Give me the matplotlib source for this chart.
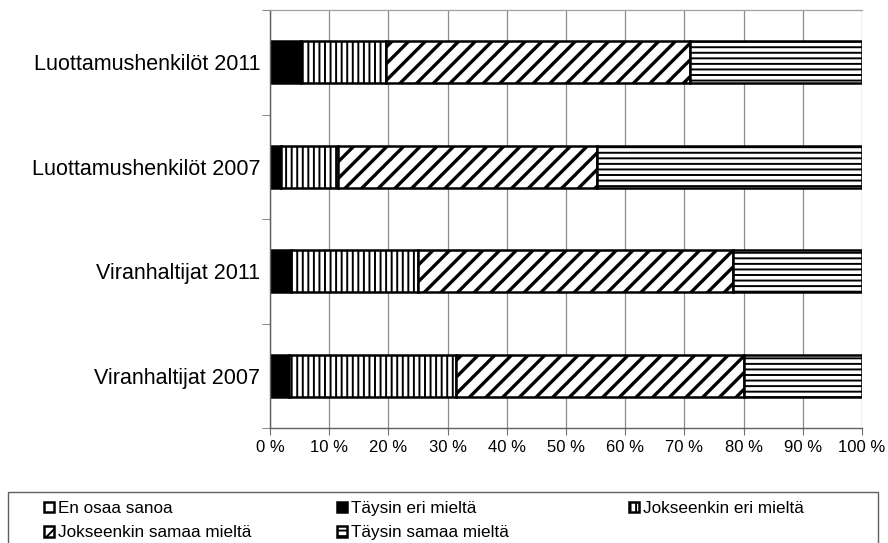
import matplotlib.pyplot as plt
from matplotlib.patches import Rectangle
import numpy as np

plt.rcParams['font.family'] = ['Liberation Sans', 'DejaVu Sans']

groups = ['Viranhaltijat 2007', 'Viranhaltijat 2011',
          'Luottamushenkilöt 2007', 'Luottamushenkilöt 2011']
labels = ['En osaa sanoa', 'Täysin eri mieltä', 'Jokseenkin eri mieltä',
          'Jokseenkin samaa mieltä', 'Täysin samaa mieltä']

# shares in percent, one list per answer, in group order above
en_osaa = [0.0, 0.0, 0.0, 0.0]
taysin_eri = [3.2, 3.5, 1.9, 5.2]
jokseenkin_eri = [28.2, 21.5, 9.6, 14.4]
jokseenkin_samaa = [48.7, 53.2, 43.7, 51.3]
taysin_samaa = [19.9, 21.8, 44.8, 29.1]

series = [en_osaa, taysin_eri, jokseenkin_eri, jokseenkin_samaa, taysin_samaa]
faces = ['white', 'black', 'white', 'white', 'white']
hatches = [None, None, '|||', '//', '---']
hatch_lw = [1.4, 1.4, 1.4, 2.4, 1.4]

fig = plt.figure(figsize=(8.88, 5.43), dpi=100)
ax = fig.add_axes([270 / 888, 1 - 428 / 543, 592 / 888, 418 / 543])

y = np.arange(len(groups))
left = np.zeros(len(groups))
handles = []
for vals, fc, h, hlw, lab in zip(series, faces, hatches, hatch_lw, labels):
    plt.rcParams['hatch.linewidth'] = hlw
    b = ax.barh(y, vals, left=left, height=0.4, color=fc, edgecolor='black',
                linewidth=1.8, hatch=h, label=lab)
    handles.append(b)
    left += np.array(vals)

ax.set_xlim(0, 100)
ax.set_ylim(-0.5, len(groups) - 0.5)
ax.set_xticks(np.arange(0, 101, 10))
ax.set_xticklabels([f'{v} %' for v in range(0, 101, 10)], fontsize=12)
ax.set_yticks(y)
ax.set_yticklabels(groups, fontsize=15.5)
ax.set_yticks(np.arange(-0.5, len(groups), 1), minor=True)
ax.tick_params(axis='y', which='major', length=0, pad=7)
ax.tick_params(axis='y', which='minor', length=6, color='#707070')
ax.tick_params(axis='x', length=5, color='#707070', pad=4)
ax.xaxis.grid(True, color='#8c8c8c', linewidth=0.9)
ax.set_axisbelow(True)
ax.spines['right'].set_visible(False)
ax.spines['top'].set_color('#a0a0a0')
ax.spines['top'].set_linewidth(0.9)
for s in ['left', 'bottom']:
    ax.spines[s].set_color('#606060')
    ax.spines[s].set_linewidth(1.0)

# legend: three equal-width columns inside one framed box
fig.add_artist(Rectangle((8 / 888, -0.05), 870 / 888, 0.05 + 1 - 492 / 543,
                         transform=fig.transFigure, fill=False,
                         edgecolor='#606060', linewidth=1.0))
columns = [[0, 3], [1, 4], [2]]
col_x = [32, 325, 617]
for idx, cx in zip(columns, col_x):
    fig.legend([handles[i] for i in idx], [labels[i] for i in idx],
               loc='upper left', bbox_to_anchor=(cx / 888, 1 - 489 / 543),
               fontsize=12.3, frameon=False, handlelength=0.6,
               handleheight=0.6, handletextpad=0.2, borderpad=0.2,
               labelspacing=0.55)

fig.savefig('out.png', dpi=100)
